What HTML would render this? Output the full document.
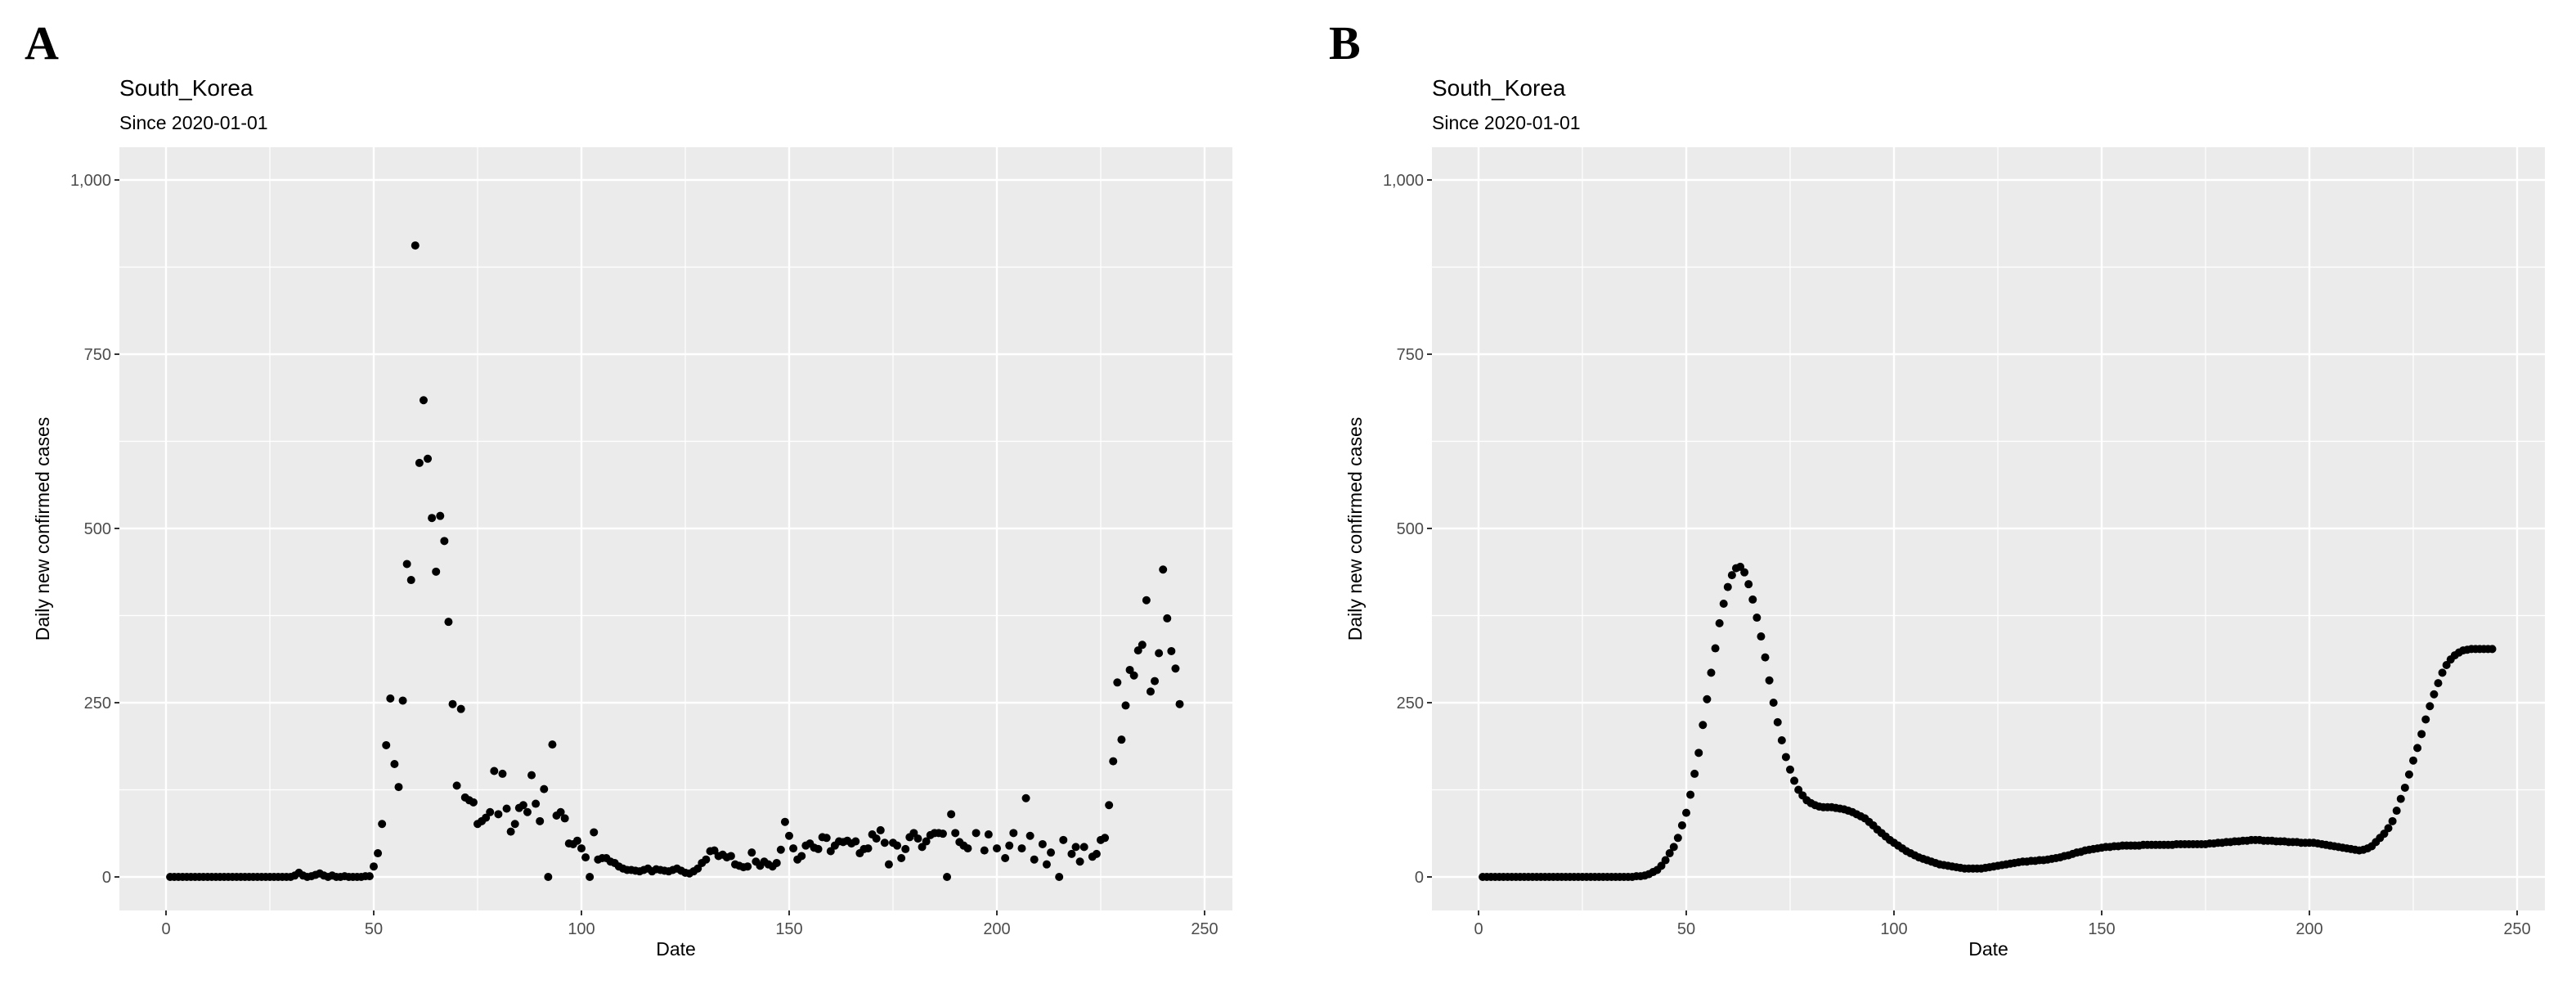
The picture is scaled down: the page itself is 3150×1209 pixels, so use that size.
<!DOCTYPE html>
<html><head><meta charset="utf-8"><title>South Korea daily cases</title>
<style>
html,body{margin:0;padding:0;background:#fff;}
svg{display:block;font-family:"Liberation Sans",Arial,sans-serif;}
</style></head>
<body>
<svg id="fig" width="3150" height="1209" viewBox="0 0 3150 1209" xmlns="http://www.w3.org/2000/svg">
<rect x="0" y="0" width="3150" height="1209" fill="#fff"/>
<text x="30" y="72" font-family="Liberation Serif,serif" font-weight="bold" font-size="58" fill="#000">A</text>
<text x="1625" y="72" font-family="Liberation Serif,serif" font-weight="bold" font-size="58" fill="#000">B</text>
<g id="panelA"></g>
<g id="panelB" transform="translate(1605,0)"></g>
</svg>
<script>
// ---- Panel A data (raw daily cases) ----
const daysA = [1,2,3,4,5,6,7,8,9,10,11,12,13,14,15,16,17,18,19,20,21,22,23,24,25,26,27,28,29,30,31,32,33,34,35,36,37,38,39,40,41,42,43,44,45,46,47,48,49,
50,51,52,53,54,55,56,57,58,59,60,61,62,63,64,65,66,67,68,69,70,71,72,73,74,75,76,77,78,79,80,81,82,83,84,85,86,87,88,89,90,91,92,93,94,95,96,97,98,99,100,101,102,103,104,105,106,107,108,109,
110,111,112,113,114,115,116,117,118,119,120,121,122,123,124,125,126,127,128,
129,130,131,132,133,134,135,136,137,138,139,140,141,142,143,144,145,146,147,148,149,150,151,152,153,154,155,156,157,158,159,160,161,162,163,164,165,166,167,168,169,170,171,172,173,174,175,176,177,178,179,180,181,182,183,184,185,186,187,188,189,190,191,192,
193,195,197,198,200,202,203,204,206,207,208,209,211,212,213,215,216,218,219,220,221,223,224,225,226,227,228,229,230,231,232,233,234,235,236,237,238,239,240,241,242,243,244];
const casesA = [0,0,0,0,0,0,0,0,0,0,0,0,0,0,0,0,0,0,0,0,0,0,0,0,0,0,0,0,0,0,2,6,2,0,1,3,5,2,0,2,0,0,1,0,0,0,0,1,1,
15,34,76,189,256,162,129,253,449,426,906,594,684,600,515,438,518,482,366,248,131,241,114,110,107,76,80,85,93,152,90,148,98,65,76,99,103,93,146,105,80,126,0,190,88,93,84,48,47,52,41,28,0,64,25,27,27,22,20,15,
12,10,10,9,8,10,12,8,11,10,9,8,10,12,9,6,5,8,12,
20,25,37,38,30,32,28,30,18,16,14,15,35,22,16,22,18,15,20,39,79,59,41,25,30,45,48,42,40,57,56,37,45,51,50,52,48,51,34,40,41,61,55,67,49,18,49,45,27,40,57,63,55,43,51,60,63,63,62,0,90,63,50,45,
41,63,38,61,41,27,45,63,41,113,59,25,47,18,35,0,53,33,43,22,43,29,33,53,56,103,166,279,197,246,297,289,325,333,397,266,281,321,441,371,324,299,248];

// ---- Panel B data (smoothed) ----
const daysB = Array.from({length:244},(_,i)=>i+1);
const casesB = [0,0,0,0,0,0,0,0,0,0,0,0,0,0,0,0,0,0,0,0,0,0,0,0,0,0,0,0,0,0,0,0,0,0,0,0,0,1,1,2,
4,7,10,16,24,34,43,56,74,92,118,148,178,218,255,293,328,364,392,416,433,443,445,437,420,398,372,345,315,282,
250,222,196,172,154,138,125,117,110,106,103,101,100,100,100,99,98,97,95,93,90,87,84,79,74,68,63,58,53,49,
45,41,37,34,31,28,26,24,22,20,18,17,16,15,14,13,12,12,12,12,12,13,14,15,16,17,18,19,20,21,
22,22,23,23,24,24,25,26,27,28,30,31,33,35,36,38,39,40,41,42,43,43,44,44,45,45,45,45,45,46,
46,46,46,46,46,46,46,47,47,47,47,47,47,47,47,48,48,49,49,50,50,51,51,52,52,53,53,53,52,52,
52,51,51,51,50,50,50,49,49,49,49,48,47,46,45,44,43,42,41,40,39,38,39,41,44,50,56,62,70,80,
95,112,128,147,167,185,205,226,245,262,278,293,304,312,318,322,325,326,327,327,327,327,327,327];

const yTicks = [0,250,500,750,1000];
const yTickLabels = ["0","250","500","750","1,000"];
const yMinor = [125,375,625,875];
const xTicks = [0,50,100,150,200,250];
const xTickLabels = ["0","50","100","150","200","250"];
const xMinor = [25,75,125,175,225];

const NS="http://www.w3.org/2000/svg";
const P={left:146,right:1507,top:180,bottom:1113};
function sx(v){return 203 + v*5.08;}
function sy(v){return 1072 - v*0.852;}
function mk(tag,attrs,parent){const e=document.createElementNS(NS,tag);for(const k in attrs)e.setAttribute(k,attrs[k]);parent.appendChild(e);return e;}

function drawPanel(g, days, cases, tag){
  const bg=mk('rect',{x:P.left,y:P.top,width:P.right-P.left,height:P.bottom-P.top,fill:'#ebebeb'},g);
  
  
  yMinor.forEach(v=>{const l=mk('line',{x1:P.left,x2:P.right,y1:sy(v),y2:sy(v),stroke:'#fff','stroke-width':1.2},g);
    
    });
  xMinor.forEach(v=>{const l=mk('line',{x1:sx(v),x2:sx(v),y1:P.top,y2:P.bottom,stroke:'#fff','stroke-width':1.2},g);
    
    });
  yTicks.forEach((v,i)=>{
    const l=mk('line',{x1:P.left,x2:P.right,y1:sy(v),y2:sy(v),stroke:'#fff','stroke-width':2.4},g);
    
    
    const t=mk('line',{x1:P.left-6,x2:P.left,y1:sy(v),y2:sy(v),stroke:'#333','stroke-width':2},g);
    
    
    const tx=mk('text',{x:P.left-10,y:sy(v)+7,'text-anchor':'end','font-size':20,fill:'#4d4d4d'},g);
    tx.textContent=yTickLabels[i];
    
    
  });
  xTicks.forEach((v,i)=>{
    const l=mk('line',{x1:sx(v),x2:sx(v),y1:P.top,y2:P.bottom,stroke:'#fff','stroke-width':2.4},g);
    
    
    const t=mk('line',{x1:sx(v),x2:sx(v),y1:P.bottom,y2:P.bottom+6,stroke:'#333','stroke-width':2},g);
    
    
    const tx=mk('text',{x:sx(v),y:P.bottom+29,'text-anchor':'middle','font-size':20,fill:'#4d4d4d'},g);
    tx.textContent=xTickLabels[i];
    
    
  });
  days.forEach((d,i)=>{
    const c=mk('circle',{cx:sx(d),cy:sy(cases[i]),r:5,fill:'#000'},g);
    
    
  });
  const ti=mk('text',{x:P.left,y:117,'font-size':28,fill:'#000'},g);
  ti.textContent='South_Korea';
  
  
  const st=mk('text',{x:P.left,y:158,'font-size':23,fill:'#000'},g);
  st.textContent='Since 2020-01-01';
  
  
  const xt=mk('text',{x:(P.left+P.right)/2,y:1168,'text-anchor':'middle','font-size':23,fill:'#000'},g);
  xt.textContent='Date';
  
  
  const yt=mk('text',{x:0,y:0,'text-anchor':'middle','font-size':23,fill:'#000',transform:'translate(60,'+((P.top+P.bottom)/2)+') rotate(-90)'},g);
  yt.textContent='Daily new confirmed cases';
  
  
}
drawPanel(document.getElementById('panelA'), daysA, casesA, 'raw-cases');
drawPanel(document.getElementById('panelB'), daysB, casesB, 'smoothed-cases');
</script>
</body></html>
